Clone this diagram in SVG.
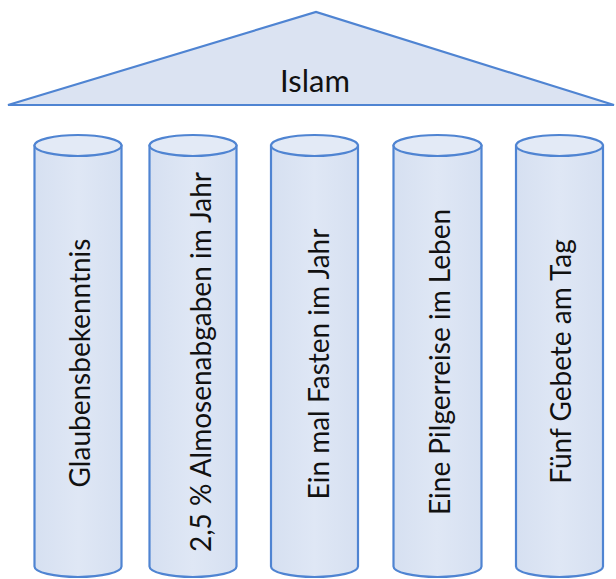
<svg xmlns="http://www.w3.org/2000/svg" width="616" height="579" viewBox="0 0 616 579">
  <style>
    .shape { fill: url(#body); stroke: #4f84d2; stroke-width: 2.2; }
    .cap { fill: #e3eaf6; stroke: #4f84d2; stroke-width: 2.2; }
    .lbl { font-family: "Lato", "Open Sans", "Liberation Sans", sans-serif; font-size: 28px; fill: #111; text-anchor: middle; }
  </style>
  <defs>
    <linearGradient id="body" x1="0" y1="0" x2="1" y2="0">
      <stop offset="0" stop-color="#d6e0f1"/>
      <stop offset="0.5" stop-color="#dfe7f5"/>
      <stop offset="1" stop-color="#d6e0f1"/>
    </linearGradient>
  </defs>
  <rect width="616" height="579" fill="#ffffff"/>
  <g id="roof">
    <polygon points="8,105 316,12 614,105" fill="#dbe3f2" stroke="#4f84d2" stroke-width="2.2" stroke-linejoin="miter"/>
    <text class="lbl" x="315" y="92" style="font-size:31px">Islam</text>
  </g>
  <g id="pillar1">
    <path class="shape" d="M34.5,145.5 L34.5,566.5 A43.5,10.5 0 0 0 121.5,566.5 L121.5,145.5 Z"/>
    <ellipse class="cap" cx="78" cy="145.5" rx="43.5" ry="10.5"/>
    <text class="lbl" transform="translate(90,363) rotate(-90)">Glaubensbekenntnis</text>
  </g>
  <g id="pillar2">
    <path class="shape" d="M149.5,145.5 L149.5,566.5 A43.5,10.5 0 0 0 236.5,566.5 L236.5,145.5 Z"/>
    <ellipse class="cap" cx="193" cy="145.5" rx="43.5" ry="10.5"/>
    <text class="lbl" transform="translate(211,362) rotate(-90)">2,5 % Almosenabgaben im Jahr</text>
  </g>
  <g id="pillar3">
    <path class="shape" d="M271,145.5 L271,566.5 A43.5,10.5 0 0 0 358,566.5 L358,145.5 Z"/>
    <ellipse class="cap" cx="314.5" cy="145.5" rx="43.5" ry="10.5"/>
    <text class="lbl" transform="translate(329,364) rotate(-90)">Ein mal Fasten im Jahr</text>
  </g>
  <g id="pillar4">
    <path class="shape" d="M393.5,145.5 L393.5,566.5 A44,10.5 0 0 0 481.5,566.5 L481.5,145.5 Z"/>
    <ellipse class="cap" cx="437.5" cy="145.5" rx="44" ry="10.5"/>
    <text class="lbl" transform="translate(450,362) rotate(-90)">Eine Pilgerreise im Leben</text>
  </g>
  <g id="pillar5">
    <path class="shape" d="M516,145.5 L516,566.5 A43.5,10.5 0 0 0 603,566.5 L603,145.5 Z"/>
    <ellipse class="cap" cx="559.5" cy="145.5" rx="43.5" ry="10.5"/>
    <text class="lbl" transform="translate(571,361.5) rotate(-90)">Fünf Gebete am Tag</text>
  </g>
  <g id="connectors"></g>
</svg>
